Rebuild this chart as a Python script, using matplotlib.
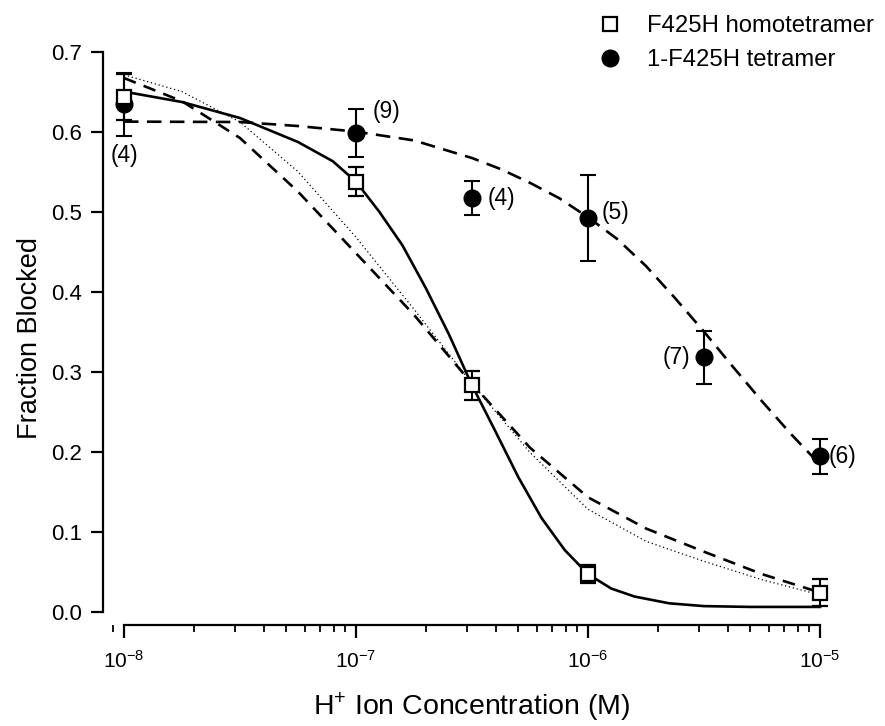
import numpy as np
import matplotlib
matplotlib.use('Agg')
import matplotlib.pyplot as plt
from matplotlib.lines import Line2D
from matplotlib.ticker import LogLocator, NullFormatter, FixedLocator

plt.rcParams['font.family'] = ['Liberation Sans', 'DejaVu Sans']
plt.rcParams['mathtext.fontset'] = 'custom'
plt.rcParams['mathtext.rm'] = 'Liberation Sans'
plt.rcParams['mathtext.it'] = 'Liberation Sans:italic'
plt.rcParams['mathtext.bf'] = 'Liberation Sans:bold'

# ---------------- data ----------------
homo_conc = [1e-8, 1e-7, 10**-6.5, 1e-6, 1e-5]
homo_frac = [0.643, 0.5375, 0.283, 0.047, 0.024]
homo_err = [0.029, 0.018, 0.018, 0.011, 0.017]

tet_conc = [1e-8, 1e-7, 10**-6.5, 1e-6, 10**-5.5, 1e-5]
tet_frac = [0.634, 0.598, 0.517, 0.492, 0.318, 0.194]
tet_err = [0.039, 0.030, 0.021, 0.054, 0.033, 0.022]
tet_n = ['(4)', '(9)', '(4)', '(5)', '(7)', '(6)']

# fitted / predicted curves (log10 concentration, fraction)
solid_logx = [-8.0, -7.75, -7.5, -7.25, -7.1, -7.0, -6.9, -6.8, -6.7, -6.6, -6.5,
              -6.4, -6.3, -6.2, -6.1, -6.0, -5.9, -5.8, -5.65, -5.5, -5.3, -5.0]
solid_y = [0.650, 0.637, 0.617, 0.587, 0.563, 0.5375, 0.500, 0.458, 0.405, 0.347, 0.283,
           0.226, 0.168, 0.117, 0.077, 0.047, 0.029, 0.019, 0.0105, 0.007, 0.006, 0.006]

pred_logx = [-8.0, -7.75, -7.5, -7.25, -7.0, -6.75, -6.5, -6.25, -6.0, -5.75, -5.5, -5.25, -5.0]
dashed_y = [0.667, 0.638, 0.592, 0.525, 0.448, 0.371, 0.285, 0.205, 0.143, 0.104, 0.075, 0.047, 0.024]
dotted_y = [0.671, 0.650, 0.612, 0.550, 0.468, 0.378, 0.285, 0.199, 0.128, 0.088, 0.063, 0.040, 0.021]

tet_fit_logx = [-8.0, -7.5, -7.25, -7.0, -6.75, -6.5, -6.375, -6.25, -6.125, -6.0, -5.875,
                -5.75, -5.625, -5.5, -5.375, -5.25, -5.125, -5.0]
tet_fit_y = [0.6125, 0.612, 0.607, 0.600, 0.589, 0.567, 0.553, 0.536, 0.517, 0.493, 0.466,
             0.432, 0.392, 0.350, 0.306, 0.263, 0.222, 0.184]

y_ticks = [0.0, 0.1, 0.2, 0.3, 0.4, 0.5, 0.6, 0.7]
x_ticks = [1e-8, 1e-7, 1e-6, 1e-5]
x_ticklabels = [r'$10^{-8}$', r'$10^{-7}$', r'$10^{-6}$', r'$10^{-5}$']

# label offsets (points) for the n annotations
n_offsets = [(0, -37, 'center'), (12, 16, 'left'), (11, 0, 'left'),
             (9.5, 4, 'left'), (-10, 0, 'right'), (6.5, 0, 'left')]

# ---------------- figure ----------------
W, H = 885, 726
fig = plt.figure(figsize=(W / 100, H / 100), dpi=100)
ax = fig.add_axes([103 / W, (H - 625) / H, (W - 103) / W, (625 - 10) / H])
ax.set_xscale('log')
ax.set_xlim(10 ** -8.0905, 10 ** -4.7198)
ax.set_ylim(-0.0166, 0.752)

lw_curve = 1.9
ax.plot(10 ** np.array(pred_logx), dotted_y, color='black', lw=0.9,
        linestyle=(0, (1, 2.2)), zorder=2)
ax.plot(10 ** np.array(pred_logx), dashed_y, color='black', lw=lw_curve,
        linestyle=(0, (4.8, 3.2)), zorder=2)
ax.plot(10 ** np.array(solid_logx), solid_y, color='black', lw=lw_curve, zorder=2)
ax.plot(10 ** np.array(tet_fit_logx), tet_fit_y, color='black', lw=lw_curve,
        linestyle=(0, (5.5, 3.2)), zorder=2)

ax.errorbar(tet_conc, tet_frac, yerr=tet_err, fmt='o', color='black', ms=12,
            mfc='black', mec='black', ecolor='black', elinewidth=1.5, capsize=5.5,
            capthick=1.5, zorder=3)
ax.errorbar(homo_conc, homo_frac, yerr=homo_err, fmt='s', color='black', ms=10,
            mfc='white', mec='black', mew=1.6, ecolor='black', elinewidth=1.5,
            capsize=5.5, capthick=1.5, zorder=4)

for x, y, t, (dx, dy, ha) in zip(tet_conc, tet_frac, tet_n, n_offsets):
    ax.annotate(t, (x, y), xytext=(dx, dy), textcoords='offset points',
                ha=ha, va='center', fontsize=16.5)

# spines
for s in ['top', 'right']:
    ax.spines[s].set_visible(False)
ax.spines['left'].set_bounds(0, 0.7)
ax.spines['bottom'].set_bounds(1e-8, 1e-5)
ax.spines['left'].set_linewidth(1.6)
ax.spines['bottom'].set_linewidth(1.6)

ax.set_yticks(y_ticks)
ax.set_yticklabels([f'{v:.1f}' for v in y_ticks])
ax.xaxis.set_major_locator(FixedLocator(x_ticks))
ax.set_xticklabels(x_ticklabels)
ax.xaxis.set_minor_locator(LogLocator(base=10, subs=np.arange(2, 10), numticks=20))
ax.xaxis.set_minor_formatter(NullFormatter())
ax.tick_params(axis='y', which='major', direction='out', length=9, width=1.6,
               labelsize=16, pad=6)
ax.tick_params(axis='x', which='major', direction='out', length=9, width=1.6,
               labelsize=15, pad=9)
ax.tick_params(axis='x', which='minor', direction='out', length=5, width=1.3)

ax.set_xlabel(r'H$^{+}$ Ion Concentration (M)', fontsize=20.5)
ax.xaxis.set_label_coords((472 - 103) / 782, (625 - 691) / 615)
ax.set_ylabel('Fraction Blocked', fontsize=19.5)
ax.yaxis.set_label_coords((43 - 103) / 782, (625 - 338) / 615)

handles = [Line2D([], [], marker='s', ls='none', ms=10, mfc='white', mec='black', mew=1.6),
           Line2D([], [], marker='o', ls='none', ms=12, mfc='black', mec='black')]
fig.legend(handles, ['F425H homotetramer', '1-F425H tetramer'], loc='upper left',
           bbox_to_anchor=(598 / W, 1 - 15 / H), frameon=False, fontsize=17.2,
           handlelength=1.0, handletextpad=1.05, borderpad=0, borderaxespad=0,
           labelspacing=0.5)

fig.savefig('out.png', dpi=100)
